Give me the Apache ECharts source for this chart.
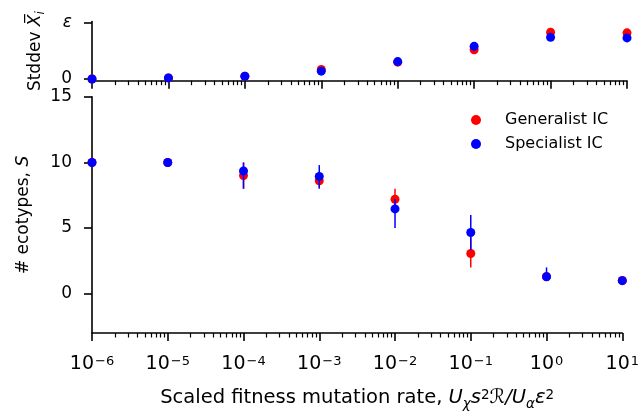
<!DOCTYPE html>
<html>
<head>
<meta charset="utf-8">
<script src="https://cdn.jsdelivr.net/npm/echarts@6/dist/echarts.min.js"></script>
<style>html,body{margin:0;padding:0;background:#fff}#c{width:642px;height:416px}</style>
</head>
<body>
<div id="c"></div>
<script>
// ---- data ----
var rates = [1e-6, 1e-5, 1e-4, 1e-3, 1e-2, 1e-1, 1, 10];
var xMajorTicks = [1e-6, 1e-5, 1e-4, 1e-3, 1e-2, 1e-1, 1, 10];
var genStd = [0.0, 0.02, 0.05, 0.17, 0.30, 0.52, 0.83, 0.82];
var specStd = [0.0, 0.02, 0.05, 0.14, 0.31, 0.58, 0.74, 0.73];
var genS = [10, 10, 9.0, 8.6, 7.2, 3.06, 1.3, 1.0];
var genLo = [10, 10, 8.0, 8.1, 6.4, 2.0, 1.0, 1.0];
var genHi = [10, 10, 10.0, 9.2, 8.0, 4.3, 1.6, 1.0];
var specS = [10, 10, 9.35, 8.94, 6.46, 4.66, 1.29, 0.99];
var specLo = [10, 10, 8.0, 8.0, 5.0, 3.3, 1.0, 1.0];
var specHi = [10, 10, 10.0, 9.8, 7.2, 6.0, 2.0, 1.0];
var sTicks = [0, 5, 10, 15];
var stdTicks = [0, 1];

var RED = '#ff0000', BLUE = '#0000ff';
var FONT = 'DejaVu Sans';

var minorTicks = [];
for (var n = -6; n < 1; n++) {
  for (var k = 2; k <= 9; k++) minorTicks.push(+(k * Math.pow(10, n)).toPrecision(3));
}

function pairs(xs, ys) { return xs.map(function (x, i) { return [x, ys[i]]; }); }
function triples(xs, lo, hi) { return xs.map(function (x, i) { return [x, lo[i], hi[i]]; }); }

var axisLine = { show: true, onZero: false, lineStyle: { color: '#000', width: 1.6 } };

function majorX(grid, withLabels) {
  return {
    type: 'log', logBase: 10, gridIndex: grid, min: 1e-6, max: 10, position: 'bottom',
    axisLine: axisLine,
    axisTick: { show: true, length: 8, lineStyle: { color: '#000', width: 1.6 }, customValues: xMajorTicks },
    axisLabel: withLabels ? {
      show: true, customValues: xMajorTicks, margin: 22, color: '#000',
      fontFamily: FONT, fontSize: 19,
      formatter: function (v) {
        var e = Math.round(Math.log10(v));
        var s = e < 0 ? '\u2212' + (-e) : '' + e;
        return '{b|10}{s|' + s + '}';
      },
      rich: {
        b: { fontFamily: FONT, fontSize: 19, color: '#000', verticalAlign: 'bottom' },
        s: { fontFamily: FONT, fontSize: 13, color: '#000', verticalAlign: 'top', padding: [0, 0, 0, 1] }
      }
    } : { show: false },
    splitLine: { show: false },
    name: withLabels ? 'Scaled fitness mutation rate, {i|U}{sub|\u03c7}{i|s}{sup|2}{i|\u211b/U}{sub|\u03b1}{i|\u03b5}{sup|2}' : '',
    nameLocation: 'middle', nameGap: 55,
    nameTextStyle: {
      fontFamily: FONT, fontSize: 19.5, color: '#000',
      rich: {
        i: { fontFamily: FONT, fontSize: 19.5, fontStyle: 'italic', color: '#000', verticalAlign: 'bottom' },
        sub: { fontFamily: FONT, fontSize: 13.5, fontStyle: 'italic', color: '#000', verticalAlign: 'bottom', padding: [0, 0, -3, 0] },
        sup: { fontFamily: FONT, fontSize: 13.5, color: '#000', verticalAlign: 'top' }
      }
    }
  };
}
function minorX(grid) {
  return {
    type: 'log', logBase: 10, gridIndex: grid, min: 1e-6, max: 10, position: 'bottom',
    axisLine: { show: false, onZero: false },
    axisTick: { show: true, length: 4.5, lineStyle: { color: '#000', width: 1.2 }, customValues: minorTicks },
    axisLabel: { show: false },
    splitLine: { show: false }
  };
}

var option = {
  backgroundColor: '#fff',
  animation: false,
  grid: [
    { left: 92, right: 15, top: 21.6, bottom: 416 - 80.7 },
    { left: 92, right: 15, top: 96.9, bottom: 416 - 333.8 }
  ],
  legend: {
    show: true, orient: 'vertical', left: 466, top: 107,
    data: ['Generalist IC', 'Specialist IC'],
    icon: 'circle', itemWidth: 10, itemHeight: 10, itemGap: 8,
    textStyle: { fontFamily: FONT, fontSize: 16, color: '#000', padding: [0, 0, 0, 19] }
  },
  xAxis: [majorX(0, false), minorX(0), majorX(1, true), minorX(1)],
  yAxis: [
    {
      type: 'value', gridIndex: 0, min: -0.03, max: 1.02,
      axisLine: axisLine,
      axisTick: { show: true, length: 8, lineStyle: { color: '#000', width: 1.6 }, customValues: stdTicks },
      axisLabel: {
        show: true, customValues: stdTicks, margin: 20, color: '#000', fontFamily: FONT, fontSize: 17,
        formatter: function (v) { return v === 0 ? '0' : '{e|\u03b5}'; },
        rich: { e: { fontFamily: FONT, fontSize: 17, fontStyle: 'italic', color: '#000' } }
      },
      splitLine: { show: false },
      name: 'Stddev {i|X\u0305}{sub|i}', nameLocation: 'middle', nameGap: 48, nameRotate: 90,
      nameTextStyle: {
        fontFamily: FONT, fontSize: 17, color: '#000',
        rich: {
          i: { fontFamily: FONT, fontSize: 17, fontStyle: 'italic', color: '#000', verticalAlign: 'bottom' },
          sub: { fontFamily: FONT, fontSize: 12, fontStyle: 'italic', color: '#000', verticalAlign: 'bottom', padding: [0, 0, -3, 0] }
        }
      }
    },
    {
      type: 'value', gridIndex: 1, min: -3, max: 15,
      axisLine: axisLine,
      axisTick: { show: true, length: 8, lineStyle: { color: '#000', width: 1.6 }, customValues: sTicks },
      axisLabel: { show: true, customValues: sTicks, margin: 20, color: '#000', fontFamily: FONT, fontSize: 17 },
      splitLine: { show: false },
      name: '# ecotypes, {i|S}', nameLocation: 'middle', nameGap: 60, nameRotate: 90,
      nameTextStyle: {
        fontFamily: FONT, fontSize: 17, color: '#000',
        rich: { i: { fontFamily: FONT, fontSize: 17, fontStyle: 'italic', color: '#000' } }
      }
    }
  ],
  series: [
    {
      type: 'custom', name: 'genErr', xAxisIndex: 2, yAxisIndex: 1, z: 2,
      data: triples(rates, genLo, genHi), encode: { x: 0, y: [1, 2] },
      renderItem: function (params, api) {
        var a = api.coord([api.value(0), api.value(1)]);
        var b = api.coord([api.value(0), api.value(2)]);
        return { type: 'line', shape: { x1: a[0], y1: a[1], x2: b[0], y2: b[1] }, style: { stroke: RED, lineWidth: 1.5 } };
      }
    },
    {
      type: 'scatter', name: 'Generalist IC', xAxisIndex: 2, yAxisIndex: 1, z: 3,
      symbol: 'circle', symbolSize: 9, itemStyle: { color: RED, opacity: 1 },
      data: pairs(rates, genS)
    },
    {
      type: 'custom', name: 'specErr', xAxisIndex: 2, yAxisIndex: 1, z: 4,
      data: triples(rates, specLo, specHi), encode: { x: 0, y: [1, 2] },
      renderItem: function (params, api) {
        var a = api.coord([api.value(0), api.value(1)]);
        var b = api.coord([api.value(0), api.value(2)]);
        return { type: 'line', shape: { x1: a[0], y1: a[1], x2: b[0], y2: b[1] }, style: { stroke: BLUE, lineWidth: 1.5 } };
      }
    },
    {
      type: 'scatter', name: 'Specialist IC', xAxisIndex: 2, yAxisIndex: 1, z: 5,
      symbol: 'circle', symbolSize: 9, itemStyle: { color: BLUE, opacity: 1 },
      data: pairs(rates, specS)
    },
    {
      type: 'scatter', name: 'Generalist IC', xAxisIndex: 0, yAxisIndex: 0, z: 3,
      symbol: 'circle', symbolSize: 9, itemStyle: { color: RED, opacity: 1 },
      data: pairs(rates, genStd)
    },
    {
      type: 'scatter', name: 'Specialist IC', xAxisIndex: 0, yAxisIndex: 0, z: 5,
      symbol: 'circle', symbolSize: 9, itemStyle: { color: BLUE, opacity: 1 },
      data: pairs(rates, specStd)
    }
  ]
};

var chart = echarts.init(document.getElementById('c'), null, { renderer: 'canvas' });
chart.setOption(option);
</script>
</body>
</html>
